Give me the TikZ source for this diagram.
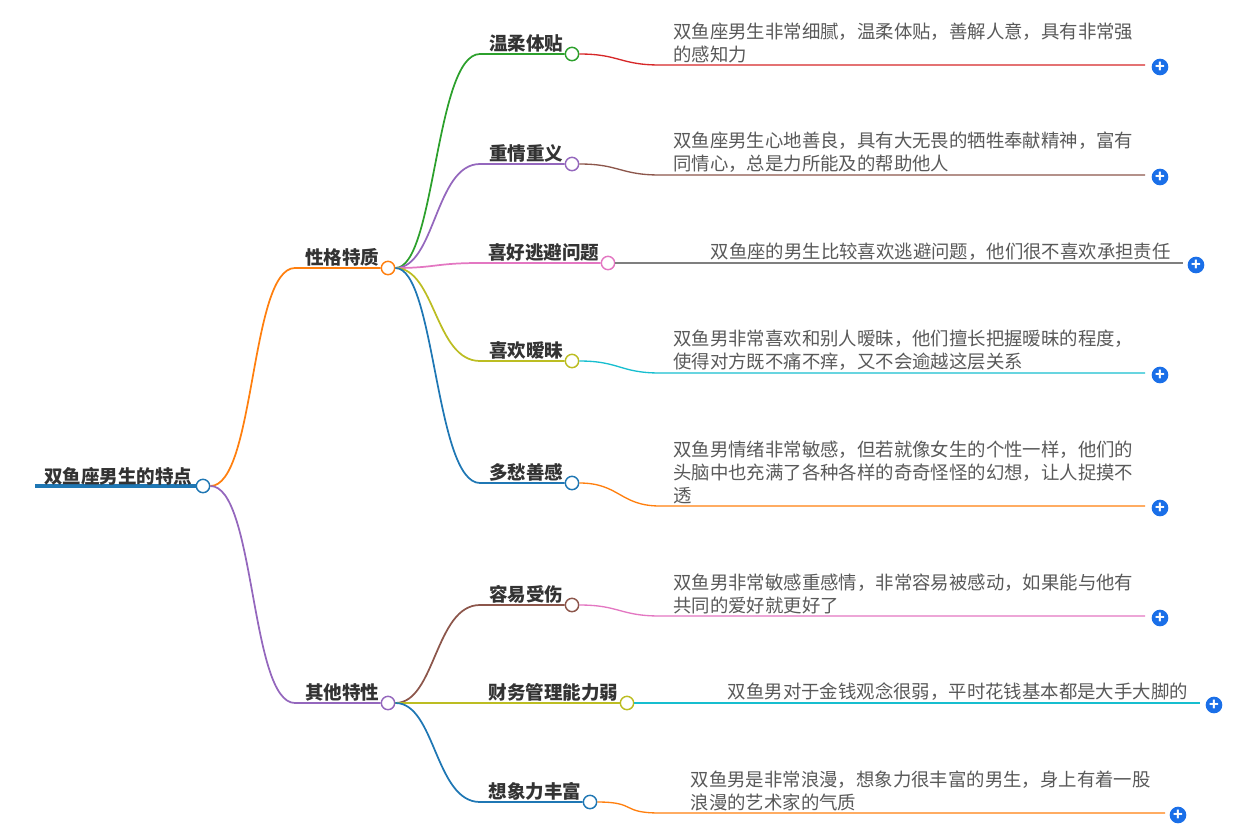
\documentclass[tikz,border=0pt]{standalone}
\usepackage{fontspec}
\setmainfont{Noto Sans CJK SC}
\usepackage{xcolor}

\begin{document}
\begin{tikzpicture}[x=0.75pt,y=-0.75pt,
    branch/.style={line width=1.3pt},
    knot/.style={circle,draw,fill=white,line width=1.1pt,minimum size=10pt,inner sep=0pt},
    topic/.style={font=\bfseries\fontsize{13.9}{16}\selectfont,text=black!80,inner sep=1pt},
    note/.style={font=\fontsize{13.8}{17.3}\selectfont,text=black!65,align=left,inner sep=0pt},
    plus/.style={circle,fill=plusblue,text=white,minimum size=12.5pt,inner sep=0pt,font=\bfseries\fontsize{12}{12}\selectfont}]
    % Define colors for branches
    \definecolor{cblue}{HTML}{1F77B4}
    \definecolor{corange}{HTML}{FF7F0E}
    \definecolor{cgreen}{HTML}{2CA02C}
    \definecolor{cred}{HTML}{D62728}
    \definecolor{cpurple}{HTML}{9467BD}
    \definecolor{cbrown}{HTML}{8C564B}
    \definecolor{cpink}{HTML}{E377C2}
    \definecolor{cgray}{HTML}{7F7F7F}
    \definecolor{colive}{HTML}{BCBD22}
    \definecolor{ccyan}{HTML}{17BECF}
    \definecolor{plusblue}{HTML}{1A6FE8}
    \useasboundingbox (0,0) rectangle (1253,836);

    % Root
    \draw[cblue,line width=3.5pt] (35,486) -- (197,486);
    \node[knot,draw=cblue] (root) at (203,486) {};
    \node[topic,anchor=south east] at (194,487) {双鱼座男生的特点};

    % First level
    \foreach \id/\y/\col/\lab in {trait/268/corange/性格特质, other/703/cpurple/其他特性} {
        \node[knot,draw=\col] (\id) at (388,\y) {};
        \draw[branch,\col] (root.east) .. controls +(45,0) and +(-45,0) .. (295,\y) -- (\id.west);
        \node[topic,anchor=south east] at (381,\y) {\lab};
    }

    % Second level with notes
    \foreach \src/\id/\y/\cx/\col/\ncol/\ly/\nx/\px/\lab/\txt in {
        trait/a/54/572/cgreen/cred/65/1145/1160/温柔体贴/{双鱼座男生非常细腻，温柔体贴，善解人意，具有非常强\\的感知力},
        trait/b/164/572/cpurple/cbrown/175/1145/1160/重情重义/{双鱼座男生心地善良，具有大无畏的牺牲奉献精神，富有\\同情心，总是力所能及的帮助他人},
        trait/c/263/608/cpink/cgray/263/1183/1196/喜好逃避问题/{\hspace{28pt}双鱼座的男生比较喜欢逃避问题，他们很不喜欢承担责任},
        trait/d/361/572/colive/ccyan/373/1145/1160/喜欢暧昧/{双鱼男非常喜欢和别人暧昧，他们擅长把握暧昧的程度，\\使得对方既不痛不痒，又不会逾越这层关系},
        trait/e/483/572/cblue/corange/506/1145/1160/多愁善感/{双鱼男情绪非常敏感，但若就像女生的个性一样，他们的\\头脑中也充满了各种各样的奇奇怪怪的幻想，让人捉摸不\\透},
        other/f/605/572/cbrown/cpink/616/1145/1160/容易受伤/{双鱼男非常敏感重感情，非常容易被感动，如果能与他有\\共同的爱好就更好了},
        other/g/703/627/colive/ccyan/703/1200/1214/财务管理能力弱/{\hspace{41pt}双鱼男对于金钱观念很弱，平时花钱基本都是大手大脚的},
        other/h/802/590/cblue/corange/813/1165/1178/想象力丰富/{\hspace{13pt}双鱼男是非常浪漫，想象力很丰富的男生，身上有着一股\\\hspace{13pt}浪漫的艺术家的气质}} {
        \node[knot,draw=\col] (\id) at (\cx,\y) {};
        \draw[branch,\col] (\src.east) .. controls +(40,0) and +(-45,0) .. (480,\y) -- (\id.west);
        \node[topic,anchor=south east] at (\cx-7,\y) {\lab};
        \coordinate (\id end) at (\nx,\ly);
        \draw[\ncol,line width=1pt] (\id.east) .. controls +(40,0) and +(-40,0) .. (660,\ly) -- (\id end);
        \node[note,anchor=south west] (\id note) at (673,\ly-2) {\txt};
        \node[plus] (\id plus) at (\px,\ly+2) {+};
    }
\end{tikzpicture}
\end{document}
